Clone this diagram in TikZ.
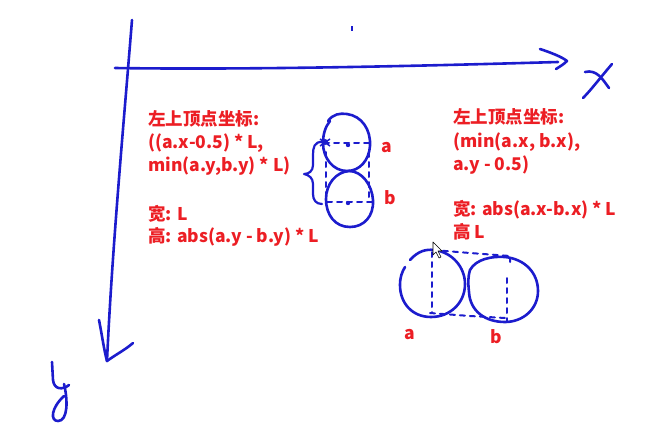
\documentclass[tikz,border=0pt]{standalone}
\usepackage{fontspec}
\newfontfamily\cjk{Noto Sans CJK SC}
\definecolor{hand}{RGB}{28,28,205}
\definecolor{txt}{RGB}{236,30,36}
\tikzset{
  pen/.style={draw=hand, line width=2.6pt, line cap=round, line join=round},
  dsh/.style={draw=hand, line width=2pt, dash pattern=on 5pt off 5pt, line cap=round},
  lbl/.style={text=txt, font=\cjk\bfseries\fontsize{17.5}{20}\selectfont, anchor=base west, inner sep=0pt},
}
\begin{document}
\begin{tikzpicture}[x=1pt,y=-1pt]
\useasboundingbox (0,0) rectangle (658,431);
% axes
\coordinate (xs) at (115,68);
\coordinate (xe) at (558,62);
\coordinate (ys) at (132,20);
\coordinate (ye) at (107,361);
\draw[pen] (xs) .. controls (250,70) and (420,66) .. (xe);
\draw[pen] (540,49) .. controls (552,53) and (562,57) .. (567,61) .. controls (563,65) and (559,67) .. (556,69);
\draw[pen] (ys) .. controls (124,120) and (112,250) .. (ye);
\draw[pen] (99,320) .. controls (102,335) and (104,350) .. (ye) .. controls (115,355) and (125,350) .. (133,343);
% x letter
\draw[pen] (585,72) .. controls (597,69) and (603,80) .. (609,88);
\draw[pen] (612,64) .. controls (600,78) and (591,90) .. (583,98);
% y letter
\draw[pen] (52,362) -- (53,380) .. controls (54,390) and (63,390) .. (69,385);
\draw[pen] (64,384) .. controls (68,400) and (68,421) .. (58,421) .. controls (50,421) and (51,408) .. (64,396);
% small tick
\draw[draw=hand, line width=1.5pt] (352,26) -- (352,31);
% left texts
\node[lbl] (l1) at (148,125) {左上顶点坐标:};
\node[lbl] (l2) at (148,148) {((a.x-0.5) * L,};
\node[lbl] (l3) at (148,171) {min(a.y,b.y) * L)};
\node[lbl] (l4) at (148,220) {宽: L};
\node[lbl] (l5) at (148,242) {高: abs(a.y - b.y) * L};
% right texts
\node[lbl] (r1) at (453,123) {左上顶点坐标:};
\node[lbl] (r2) at (453,147) {(min(a.x, b.x),};
\node[lbl] (r3) at (453,170) {a.y - 0.5)};
\node[lbl] (r4) at (453,215) {宽: abs(a.x-b.x) * L};
\node[lbl] (r5) at (453,238) {高 L};
% left circles
\draw[pen] (328,121) .. controls (333,114) and (340,113) .. (347,114) .. controls (362,116) and (371,130) .. (370,146)
  .. controls (369,160) and (360,171) .. (347,171) .. controls (333,171) and (323,158) .. (323,143) .. controls (323,133) and (326,126) .. (330,121);
\draw[pen] (349,171) .. controls (362,171) and (372,185) .. (373,200) .. controls (374,216) and (364,227) .. (350,227)
  .. controls (335,227) and (326,215) .. (326,199) .. controls (326,184) and (336,172) .. (349,171);
\draw[dsh] (324,143) -- (371,143);
\draw[dsh] (327,202) -- (373,202);
\draw[dsh] (326,152) -- (326,200);
\draw[dsh] (369,152) -- (369,198);
\fill[hand] (348,145) circle (2.2);
\fill[hand] (348,203) circle (2.2);
\fill[hand] (325,142) circle (3);
\draw[draw=hand, line width=1.5pt] (320,139) -- (330,146) (320,146) -- (330,139);
% brace
\draw[pen, line width=2.2pt] (323,142) .. controls (314,141) and (313,148) .. (313,155) -- (313,165) .. controls (313,171) and (309,174) .. (304,174)
  .. controls (309,175) and (313,178) .. (313,184) -- (313,194) .. controls (313,200) and (316,204) .. (322,204);
\node[lbl] (la) at (381,152) {a};
\node[lbl] (lb) at (384,204) {b};
% right circles
\draw[pen] (410,260) .. controls (418,251) and (426,249) .. (434,250) .. controls (452,252) and (465,267) .. (465,284)
  .. controls (465,303) and (450,317) .. (431,317) .. controls (412,317) and (400,303) .. (400,285) .. controls (400,277) and (402,272) .. (405,267);
\draw[pen] (470,270) .. controls (476,259) and (492,256) .. (505,257) .. controls (525,259) and (538,273) .. (538,291)
  .. controls (538,309) and (523,322) .. (505,322) .. controls (485,322) and (470,311) .. (469,292) .. controls (468,283) and (468,276) .. (470,270);
\draw[dsh] (433,250) -- (470,253) -- (510,256) -- (510,262);
\draw[dsh] (430,313) -- (470,316) -- (505,318);
\draw[dsh] (432,252) -- (432,313);
\draw[dsh] (507,278) -- (507,322);
\node[lbl] (ra) at (404,339) {a};
\node[lbl] (rb) at (490,343) {b};
% cursor
\draw[fill=white, draw=black, line width=0.6pt, line join=round] (433,242) -- (433,255) -- (436,252) -- (439,258) -- (441,257) -- (438,251) -- (442,251) -- cycle;
\end{tikzpicture}
\end{document}
